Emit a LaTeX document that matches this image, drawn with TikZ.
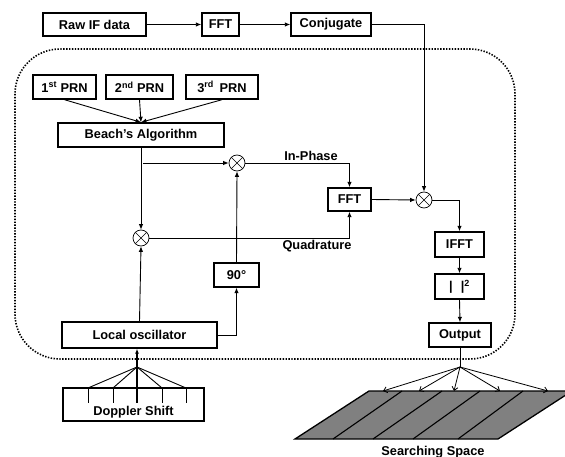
\documentclass[tikz,border=0pt]{standalone}
\usepackage{fontspec}
\setmainfont{Liberation Sans}
\usetikzlibrary{arrows.meta,calc}
\begin{document}
\begin{tikzpicture}[x=1pt,y=-1pt,
  lbl/.style={font=\bfseries\fontsize{12.8}{15}\selectfont, inner sep=0pt},
  box/.style={draw, line width=1.4pt, inner sep=0pt, lbl},
  mult/.style={draw, circle, line width=0.7pt, minimum size=16pt, inner sep=0pt,
    path picture={\draw[line width=0.6pt] (path picture bounding box.north west)--(path picture bounding box.south east)
      (path picture bounding box.north east)--(path picture bounding box.south west);}},
  conn/.style={line width=0.9pt},
  arr/.style={conn, -{Latex[length=5.5pt,width=4.5pt]}},
  oarr/.style={line width=0.8pt, -{Straight Barb[length=3.5pt,width=6pt]}},
  dotbox/.style={line width=1.6pt, dash pattern=on 1.4pt off 1.5pt, rounded corners=45pt}
]
\useasboundingbox (0,0) rectangle (565,457);
\clip (0,0) rectangle (565,457);

% dotted enclosure
\draw[dotbox] (15,49) rectangle (515,359);

% top row
\node[box, minimum width=103pt, minimum height=23pt] (raw) at (94.5,24.5) {Raw IF data};
\node[box, minimum width=37pt, minimum height=23pt] (fftA) at (220.5,24.5) {FFT};
\node[box, minimum width=80pt, minimum height=23pt] (conj) at (331,24.5) {Conjugate};

% PRNs
\node[box, minimum width=63pt, minimum height=24pt] (prn1) at (64.5,87) {1\textsuperscript{st} PRN};
\node[box, minimum width=67pt, minimum height=24pt] (prn2) at (139.5,87) {2\textsuperscript{nd} PRN};
\node[box, minimum width=72pt, minimum height=24pt] (prn3) at (222,87) {3\textsuperscript{rd}\, PRN};
\node[box, minimum width=166pt, minimum height=24pt] (beach) at (141,135) {Beach’s Algorithm};

% multipliers
\node[mult] (m1) at (237,163) {};
\node[mult] (m2) at (141,238) {};
\node[mult] (m3) at (424,200) {};

\node[box, minimum width=43pt, minimum height=23pt] (fftB) at (349.5,199.5) {FFT};
\node[box, minimum width=45pt, minimum height=24pt] (ninety) at (236.5,275) {90\textdegree};
\node[box, minimum width=155pt, minimum height=26pt] (lo) at (139.5,335) {Local oscillator};

\node[box, minimum width=49pt, minimum height=25pt] (ifft) at (459.5,244.5) {IFFT};
\node[box, minimum width=49pt, minimum height=25pt] (abs) at (459.5,286.5) {|\hspace{8pt}|\textsuperscript{2}};
\node[box, minimum width=62pt, minimum height=24pt] (out) at (460,335) {Output};

% Doppler shift
\node[box, minimum width=141pt, minimum height=33pt] (dopp) at (133.5,404.5) {};
\node[lbl] (dopptxt) at (133.5,412.5) {Doppler Shift};
\coordinate (dapex) at (137,367);
\foreach \x/\w in {88/0.9,113/0.9,137/1.6,162/0.9,186/0.9}{
  \coordinate (t\x) at (\x,388);
  \draw[line width=\w pt] (t\x) -- ++(0,15);
  \draw[line width=\w pt] (t\x) -- (dapex);
}
\draw[line width=1.6pt, -{Latex[length=5pt,width=4pt]}] (dapex) -- (dapex |- lo.south);

% searching space
\fill[gray] (369,391) -- (572,391) -- (498,439) -- (295,439) -- cycle;
\draw[line width=1.3pt] (369,391) -- (572,391) -- (498,439) -- (295,439) -- cycle;
\foreach \b/\t in {333/402,373/442,413/480,458/523}{
  \draw[line width=1.1pt] (\b,439) -- (\t,391);
}
\node[lbl] (ss) at (433,452) {Searching Space};

% connectors
\draw[arr] (raw) -- (fftA);
\draw[arr] (fftA) -- (conj);
\draw[arr] (conj.east) -| (m3.north);
\foreach \p in {prn1,prn2,prn3}{\draw[arr] (\p.south) -- (beach.north);}
\draw[arr] (beach.south) -- (m2.north);
\draw[arr] ([xshift=2pt]beach.south |- m1.west) -- (m1.west);
\draw[arr] (m1.east) -| (fftB.north);
\draw[arr] (m2.east) -| (fftB.south);
\node[lbl, anchor=south] (inph) at (311,161) {In-Phase};
\node[lbl, anchor=north] (quad) at (317,240) {Quadrature};
\draw[arr] (ninety.north) -- (m1.south);
\draw[arr] (lo.north) -- (m2.south);
\draw[arr] (lo.east) -| (ninety.south);
\draw[arr] (fftB.east) -- (m3.west);
\draw[arr] (m3.east) -| (ifft.north);
\draw[arr] (ifft.south) -- (abs.north);
\draw[arr] (abs.south) -- (out.north);
\coordinate (sapex) at (460,367);
\draw[conn] (out.south) -- (sapex);
\foreach \x in {383,419,454,500,548}{
  \coordinate (s\x) at (\x,391);
  \draw[oarr] (sapex) -- (s\x);
}
\end{tikzpicture}
\end{document}
